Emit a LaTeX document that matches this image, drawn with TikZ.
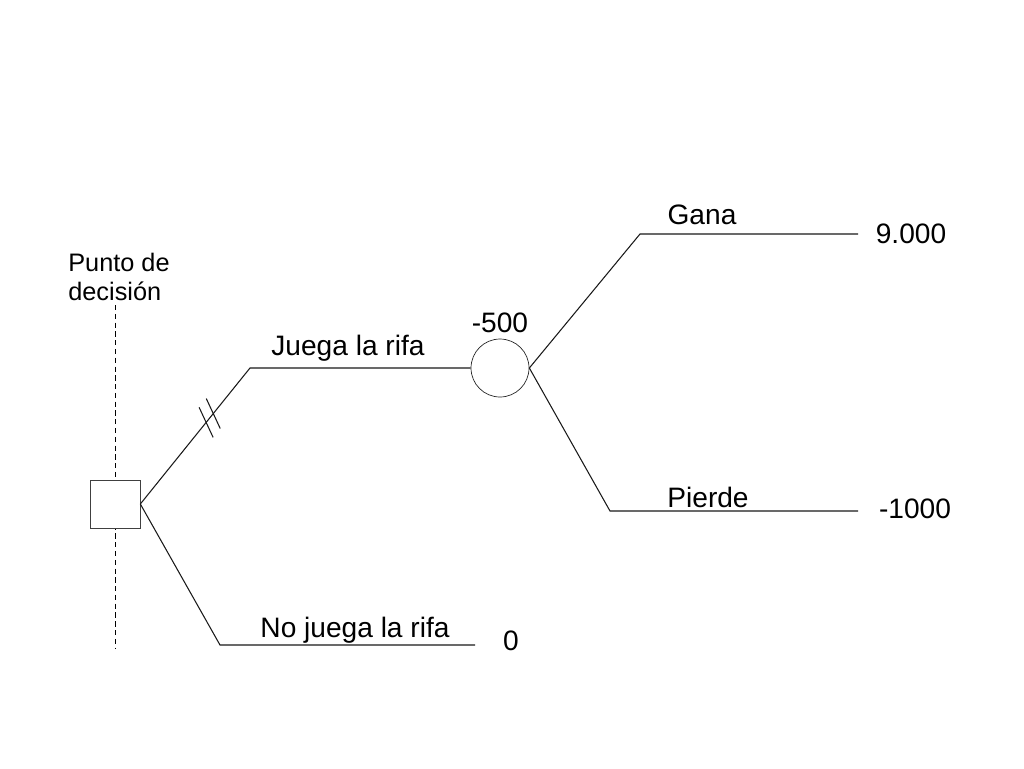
\documentclass[tikz,border=0pt]{standalone}
\usepackage{fontspec}
\setmainfont{Liberation Sans}
\usepackage{tikz}
\usetikzlibrary{positioning, calc}
\tikzset{
    decisionbox/.style={rectangle, draw=black!75, fill=white, minimum width=1cm, minimum height=0.96cm, inner sep=0pt},
    chancenode/.style={circle, draw=black!85, fill=white, minimum size=1.16cm, inner sep=0pt},
    branch/.style={line width=0.6pt, color=black!90},
    tick/.style={line width=0.6pt, color=black!90},
    guide/.style={dashed, line width=0.5pt, dash pattern=on 3pt off 2pt},
    branchlabel/.style={font=\fontsize{16}{18}\selectfont, inner sep=1pt},
    valuelabel/.style={font=\fontsize{16}{18}\selectfont, inner sep=1pt}
}
\begin{document}
\begin{tikzpicture}[x=0.02cm, y=-0.02cm]
    \useasboundingbox (0,0) rectangle (1024,768);

    % guide line behind the decision point
    \coordinate (gtop) at (115,305);
    \coordinate (gbot) at (115,648);
    \draw [guide] (gtop) -- (gbot);
    \node (guidetext) [anchor=west, align=left, font=\fontsize{14.4}{16.5}\selectfont, inner sep=0pt] at (68,277) {Punto de\\decisi\'on};

    \node (dec) [decisionbox] at (115,504) {};
    \node (chance) [chancenode] at (500,368) {};

    % bends and free ends
    \coordinate (jbend) at (250,368);
    \coordinate (nbend) at (220,645);
    \coordinate (nend) at (475,645);
    \coordinate (gbend) at (640,234);
    \coordinate (gend) at (858,234);
    \coordinate (pbend) at (610,511);
    \coordinate (pend) at (858,511);

    \draw [branch] (dec.east) -- coordinate[pos=0.6] (t1) coordinate[pos=0.665] (t2) (jbend) -- (chance.west);
    \draw [branch] (dec.east) -- (nbend) -- (nend);
    \draw [branch] (chance.east) -- (gbend) -- (gend);
    \draw [branch] (chance.east) -- (pbend) -- (pend);

    % tick marks
    \draw [tick] ($(t1)+(-7,-15)$) -- ($(t1)+(7,15)$);
    \draw [tick] ($(t2)+(-7,-15)$) -- ($(t2)+(7,15)$);

    \node (juega) [branchlabel] at (348,348) {Juega la rifa};
    \node (nojuega) [branchlabel] at (355,630) {No juega la rifa};
    \node (gana) [branchlabel] at (702,215) {Gana};
    \node (pierde) [branchlabel] at (708,497) {Pierde};
    \node (ev) [valuelabel, above=2pt of chance] {-500};
    \node (vgana) [valuelabel] at (911,234) {9.000};
    \node (vpierde) [valuelabel] at (915,509) {-1000};
    \node (vno) [valuelabel] at (511,641) {0};
\end{tikzpicture}
\end{document}
